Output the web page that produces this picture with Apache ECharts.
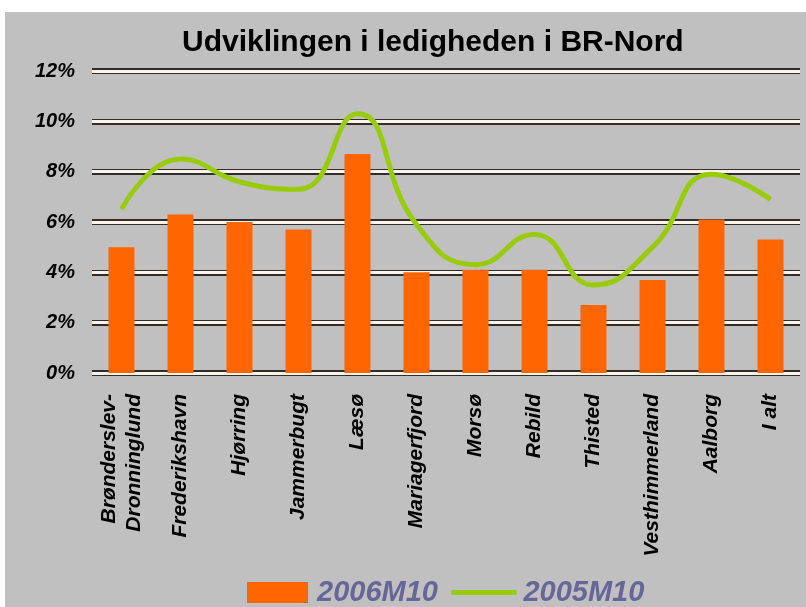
<!DOCTYPE html>
<html>
<head>
<meta charset="utf-8">
<script src="https://cdn.jsdelivr.net/npm/echarts@6/dist/echarts.min.js"></script>
<style>
    html, body { margin: 0; padding: 0; background: #ffffff; }
    #main { position: absolute; left: 5px; top: 12px; width: 801px; height: 595px; background: #c0c0c0; }
</style>
</head>
<body>
<div id="main"></div>
<script>
// kommuner i BR-Nord
const categories = ['Brønderslev-\nDronninglund', 'Frederikshavn', 'Hjørring', 'Jammerbugt', 'Læsø',
    'Mariagerfjord', 'Morsø', 'Rebild', 'Thisted', 'Vesthimmerland', 'Aalborg', 'I alt'];
// ledighed i procent
const ledighed2006 = [5.0, 6.3, 6.0, 5.7, 8.7, 4.0, 4.1, 4.1, 2.7, 3.7, 6.1, 5.3];
const ledighed2005 = [6.5, 8.5, 7.6, 7.3, 10.3, 5.9, 4.3, 5.5, 3.5, 5.0, 7.9, 6.9];
const yTicks = [0, 2, 4, 6, 8, 10, 12];

const font = '"Liberation Sans", Arial, sans-serif';
let myChart = echarts.init(document.getElementById('main'));

let option = {
    animation: false,
    title: {
        text: 'Udviklingen i ledigheden i BR-Nord',
        left: 172,
        top: 11,
        textStyle: { fontFamily: font, fontSize: 30, fontWeight: 'bold', color: '#000' }
    },
    legend: {
        left: 237,
        top: 561,
        itemWidth: 61,
        itemHeight: 21,
        itemGap: 13,
        textStyle: {
            fontFamily: font, fontSize: 29, fontWeight: 'bold', fontStyle: 'italic',
            color: '#666699', padding: [0, 0, 0, 4]
        },
        data: [
            { name: '2006M10', icon: 'rect' },
            {
                name: '2005M10',
                itemStyle: { opacity: 0 },
                lineStyle: { width: 5, color: '#99cc00', cap: 'round' }
            }
        ]
    },
    grid: { left: 87, right: 6, top: 59, bottom: 234 },
    xAxis: {
        type: 'category',
        data: categories,
        axisLine: { show: false },
        axisTick: { show: false },
        axisLabel: {
            rotate: 90,
            margin: 21,
            interval: 0,
            fontFamily: font,
            fontSize: 21,
            fontWeight: 'bold',
            fontStyle: 'italic',
            color: '#000',
            lineHeight: 25
        }
    },
    yAxis: [
        {
            type: 'value',
            min: yTicks[0],
            max: yTicks[yTicks.length - 1],
            interval: 2,
            axisLine: { show: false },
            axisTick: { show: false },
            axisLabel: {
                formatter: '{value}%',
                margin: 17,
                fontFamily: font,
                fontSize: 20,
                fontWeight: 'bold',
                fontStyle: 'italic',
                color: '#000'
            },
            splitLine: { lineStyle: { color: '#2e2e2e', width: 6 } }
        },
        {
            // lys stribe midt i gitterlinjerne
            type: 'value',
            min: yTicks[0],
            max: yTicks[yTicks.length - 1],
            interval: 2,
            position: 'left',
            axisLine: { show: false },
            axisTick: { show: false },
            axisLabel: { show: false },
            splitLine: { lineStyle: { color: '#fff2e8', width: 3 } }
        }
    ],
    series: [
        {
            name: '2006M10',
            type: 'bar',
            data: ledighed2006,
            barWidth: 26,
            itemStyle: { color: '#ff6600' }
        },
        {
            name: '2005M10',
            type: 'line',
            data: ledighed2005,
            smooth: true,
            symbol: 'none',
            lineStyle: { color: '#99cc00', width: 5 },
            itemStyle: { color: '#99cc00' }
        }
    ]
};

myChart.setOption(option);
</script>
</body>
</html>
